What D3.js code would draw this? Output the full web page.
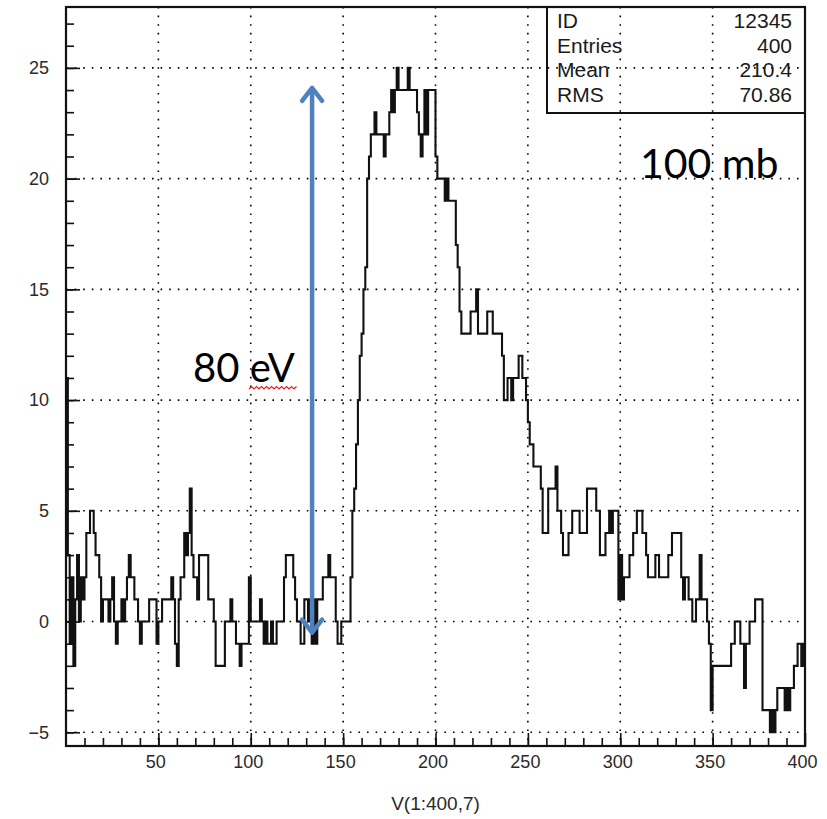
<!DOCTYPE html>
<html>
<head>
<meta charset="utf-8">
<script src="https://cdn.jsdelivr.net/npm/d3@7"></script>
<style>
  body { margin: 0; background: #fff; }
  svg { display: block; }
</style>
</head>
<body>
<svg id="chart" width="827" height="819"></svg>
<script>
// Contents of vector V, elements 1..400 (one bin per element)
const counts = [
  11, 3, -1, 2, -2, 1, 3, 0, 2, 1,
  2, 4, 4, 5, 5, 4, 3, 3, 2, 0,
  1, 1, 1, 0, 1, 2, 0, -1, 0, 0,
  1, 0, 1, 2, 3, 2, 2, 1, 1, 0,
  -1, 0, 0, 0, 0, 1, 1, 1, 1, -1,
  0, 0, 1, 1, 1, 1, 1, 2, 1, -1,
  -2, 1, 2, 2, 4, 3, 4, 6, 3, 2,
  2, 1, 3, 3, 3, 3, 3, 1, 1, 1,
  0, -2, -2, -2, -2, -2, 0, 0, 0, 1,
  0, 0, -1, -1, -2, -1, -1, -1, -1, 2,
  0, 0, 0, 0, 0, 1, 0, -1, 0, -1,
  -1, 0, -1, -1, 0, 0, 0, 0, 2, 3,
  3, 3, 3, 2, 1, 0, 0, -1, -1, 1,
  1, 0, 1, -1, 1, -1, 1, 1, 1, 2,
  2, 2, 3, 2, 2, 2, 0, -1, -1, 0,
  0, 0, 0, 0, 2, 5, 6, 8, 10, 12,
  13, 15, 16, 20, 21, 22, 22, 23, 22, 22,
  22, 22, 21, 22, 22, 23, 24, 23, 24, 25,
  24, 24, 24, 24, 24, 25, 24, 24, 24, 24,
  23, 22, 21, 22, 24, 22, 24, 24, 24, 24,
  21, 20, 20, 20, 20, 19, 20, 19, 19, 19,
  19, 17, 16, 14, 13, 13, 13, 13, 13, 14,
  14, 14, 15, 13, 13, 13, 13, 13, 14, 14,
  14, 13, 13, 13, 13, 13, 12, 10, 10, 11,
  11, 10, 11, 11, 11, 12, 12, 11, 11, 10,
  9, 8, 8, 7, 7, 7, 7, 6, 4, 4,
  4, 6, 6, 6, 6, 7, 5, 5, 4, 3,
  3, 3, 4, 4, 5, 5, 5, 5, 4, 4,
  4, 4, 6, 6, 6, 6, 6, 5, 5, 3,
  3, 3, 4, 4, 5, 4, 5, 5, 5, 1,
  3, 1, 2, 2, 2, 3, 3, 4, 4, 5,
  5, 5, 4, 4, 3, 2, 2, 2, 2, 3,
  3, 2, 2, 2, 2, 2, 3, 3, 4, 4,
  4, 4, 4, 2, 1, 2, 2, 1, 1, 0,
  0, 1, 1, 3, 1, 1, 1, 0, -1, -4,
  -2, -2, -2, -2, -2, -2, -2, -2, -2, -2,
  -1, -1, 0, 0, 0, -1, -1, -3, -1, -1,
  0, 0, 0, 1, 1, 1, 1, -4, -4, -4,
  -4, -5, -4, -5, -4, -3, -3, -3, -3, -4,
  -3, -4, -3, -3, -2, -2, -1, -1, -2, -1
];

const xMajorTicks = [50, 100, 150, 200, 250, 300, 350, 400];
const xMinorTicks = d3.range(10, 400, 10);
const yMajorTicks = [-5, 0, 5, 10, 15, 20, 25];
const yMinorTicks = d3.range(-5, 28, 1);
const xTitle = "V(1:400,7)";

// statistics box
const statNames = ["ID", "Entries", "Mean", "RMS"];
const statValues = ["12345", "400", "210.4", "70.86"];

// annotations
const spanLabel = "80 eV";
const spanTop = 24.1, spanBottom = -0.5, spanX = 133.2;
const pressureLabel = "100 mb";

const svg = d3.select("#chart");
const frame = { left: 66, right: 805, top: 7, bottom: 746 };

const x = d3.scaleLinear().domain([0, 400]).range([frame.left, frame.right]);
const y = d3.scaleLinear().domain([-5.62, 27.75]).range([frame.bottom, frame.top]);

// dotted grid at the major ticks
const grid = svg.append("g")
  .attr("stroke", "#000")
  .attr("stroke-width", 1.6)
  .attr("stroke-dasharray", "1.6,7");
grid.selectAll("line.gx").data(xMajorTicks.filter(d => d < 400)).join("line")
  .attr("x1", d => x(d)).attr("x2", d => x(d))
  .attr("y1", frame.top).attr("y2", frame.bottom);
grid.selectAll("line.gy").data(yMajorTicks).join("line")
  .attr("x1", frame.left).attr("x2", frame.right)
  .attr("y1", d => y(d)).attr("y2", d => y(d));

// histogram outline (step line, bin i spans [i-1, i])
let pathD = `M${x(0)},${y(counts[0])}`;
counts.forEach((v, i) => {
  if (i > 0) pathD += `V${y(v)}`;
  pathD += `H${x(i + 1)}`;
});
svg.append("path")
  .attr("d", pathD)
  .attr("fill", "none")
  .attr("stroke", "#111")
  .attr("stroke-width", 2.1)
  .attr("stroke-linejoin", "miter");

// frame
svg.append("rect")
  .attr("x", frame.left).attr("y", frame.top)
  .attr("width", frame.right - frame.left)
  .attr("height", frame.bottom - frame.top)
  .attr("fill", "none").attr("stroke", "#111").attr("stroke-width", 2.2);

const tickFont = "'Liberation Sans', Arial, sans-serif";

// y axis: inward ticks, labels on the left
const yMinor = svg.append("g").attr("transform", `translate(${frame.left},0)`)
  .call(d3.axisLeft(y).tickValues(yMinorTicks).tickSize(-8).tickFormat(""));
const yMajor = svg.append("g").attr("transform", `translate(${frame.left},0)`)
  .call(d3.axisLeft(y).tickValues(yMajorTicks).tickSize(-14).tickPadding(17)
    .tickFormat(d => d < 0 ? "\u2212" + Math.abs(d) : d));

// x axis: inward ticks, labels below
const xMinor = svg.append("g").attr("transform", `translate(0,${frame.bottom})`)
  .call(d3.axisBottom(x).tickValues(xMinorTicks).tickSize(-8).tickFormat(""));
const xMajor = svg.append("g").attr("transform", `translate(0,${frame.bottom})`)
  .call(d3.axisBottom(x).tickValues(xMajorTicks).tickSize(-13).tickPadding(9));

[yMinor, yMajor, xMinor, xMajor].forEach(g => {
  g.select(".domain").remove();
  g.selectAll(".tick line").attr("stroke", "#111").attr("stroke-width", 1.6);
  g.selectAll(".tick text")
    .attr("font-family", tickFont)
    .attr("font-size", 18)
    .attr("fill", "#2a2a2a");
});
xMajor.selectAll(".tick text").attr("dx", -3);

// x axis title
svg.append("text")
  .attr("x", x(200)).attr("y", 810)
  .attr("text-anchor", "middle")
  .attr("font-family", tickFont).attr("font-size", 19)
  .attr("fill", "#2a2a2a")
  .text(xTitle);

// statistics box
const box = { left: 547, right: frame.right, top: frame.top, bottom: 113 };
svg.append("rect")
  .attr("x", box.left).attr("y", box.top)
  .attr("width", box.right - box.left).attr("height", box.bottom - box.top)
  .attr("fill", "none").attr("stroke", "#111").attr("stroke-width", 2);
const rowBase = [28, 52.5, 77, 102];
svg.append("g").selectAll("text").data(statNames).join("text")
  .attr("x", 557).attr("y", (d, i) => rowBase[i])
  .attr("font-family", tickFont).attr("font-size", 21).attr("fill", "#1a1a1a")
  .text(d => d);
svg.append("g").selectAll("text").data(statValues).join("text")
  .attr("x", 792).attr("y", (d, i) => rowBase[i])
  .attr("text-anchor", "end")
  .attr("font-family", tickFont).attr("font-size", 21).attr("fill", "#1a1a1a")
  .text(d => d);

// double-headed arrow marking the energy span
const arrowColor = "#4f81bd";
const ax = x(spanX), ayTop = y(spanTop), ayBot = y(spanBottom);
const arrow = svg.append("g")
  .attr("stroke", arrowColor).attr("fill", "none")
  .attr("stroke-width", 4.5).attr("stroke-linecap", "round").attr("stroke-linejoin", "round");
arrow.append("line").attr("x1", ax).attr("x2", ax).attr("y1", ayTop + 2).attr("y2", ayBot - 2);
arrow.append("path").attr("d", `M${ax - 10},${ayTop + 13}L${ax},${ayTop}L${ax + 10},${ayTop + 13}`);
arrow.append("path").attr("d", `M${ax - 10},${ayBot - 13}L${ax},${ayBot}L${ax + 10},${ayBot - 13}`);

// annotation text
const noteFont = "Lato, 'Open Sans', sans-serif";
const spanText = svg.append("text")
  .attr("x", 193).attr("y", 382)
  .attr("font-family", noteFont).attr("font-size", 40).attr("fill", "#000")
  .text(spanLabel);
svg.append("text")
  .attr("x", 640).attr("y", 178)
  .attr("font-family", noteFont).attr("font-size", 41).attr("fill", "#000")
  .text(pressureLabel);

// red wavy underline beneath the unit
const bb = spanText.node().getBBox();
const waveStart = bb.x + bb.width * 0.55, waveEnd = bb.x + bb.width;
let wave = `M${waveStart},389`;
for (let px = waveStart, k = 0; px < waveEnd; px += 2.5, k++) {
  wave += `L${px + 2.5},${k % 2 ? 389 : 386.5}`;
}
svg.append("path").attr("d", wave)
  .attr("fill", "none").attr("stroke", "#e02020").attr("stroke-width", 1.2);
</script>
</body>
</html>
